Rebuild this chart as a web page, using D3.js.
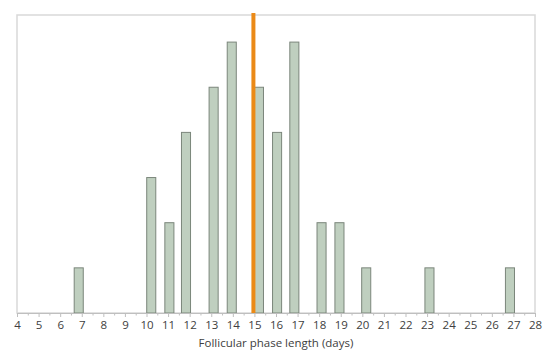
<!DOCTYPE html>
<html>
<head>
<meta charset="utf-8">
<script src="https://cdn.jsdelivr.net/npm/d3@7"></script>
<style>
  html, body { margin: 0; padding: 0; background: #fff; overflow: hidden; }
  svg { display: block; }
  text { font-family: "Open Sans", "Noto Sans", sans-serif; fill: #404040; }
</style>
</head>
<body>
<div id="chart"></div>
<script>
var width = 557,
    height = 359,
    margin = { top: 15, right: 22, bottom: 46, left: 17 },
    innerWidth = width - margin.left - margin.right,
    innerHeight = height - margin.top - margin.bottom;

// follicular phase length (days) and number of cycles
var days = [7, 10, 11, 12, 13, 14, 15, 16, 17, 18, 19, 20, 23, 27];
var barPos = [6.86, 10.22, 11.06, 11.83, 13.11, 13.95, 15.21, 16.05, 16.85, 18.11, 18.94, 20.18, 23.11, 26.84];
var counts = [1, 3, 2, 4, 5, 6, 5, 4, 6, 2, 2, 1, 1, 1];
var xTicks = d3.range(4, 29);
var markerDay = 15;

var barWidthDays = 0.42;

var svg = d3.select("#chart")
    .append("svg")
    .attr("width", width)
    .attr("height", height);

var g = svg.append("g")
    .attr("transform", `translate(${margin.left}, ${margin.top})`);

var x = d3.scaleLinear()
    .domain([4, 28])
    .range([0, innerWidth]);

var y = d3.scaleLinear()
    .domain([0, 6.6])
    .range([innerHeight, 0]);

// plot border
g.append("rect")
    .attr("x", 0)
    .attr("y", 0)
    .attr("width", innerWidth)
    .attr("height", innerHeight)
    .style("fill", "none")
    .style("stroke", "#d9d9d9")
    .style("stroke-width", 1.5);

// bars
var bw = x(4 + barWidthDays) - x(4);
g.selectAll("rect.bar")
    .data(days.map((d, i) => ({ day: d, pos: barPos[i], n: counts[i] })))
    .enter()
    .append("rect")
    .attr("class", "bar")
    .attr("x", d => x(d.pos) - bw / 2)
    .attr("y", d => y(d.n))
    .attr("width", bw)
    .attr("height", d => y(0) - y(d.n))
    .style("fill", "#bfcfbf")
    .style("stroke", "#7b867b")
    .style("stroke-width", 1);

// minor ticks
g.append("g")
    .attr("transform", `translate(0, ${innerHeight})`)
    .call(d3.axisBottom(x).tickValues(d3.range(4.5, 28, 1)).tickSize(2.5).tickFormat(""))
    .call(a => a.select(".domain").remove())
    .call(a => a.selectAll("line").style("stroke", "#bfbfbf"));

// major axis
var xAxis = g.append("g")
    .attr("transform", `translate(0, ${innerHeight})`)
    .call(d3.axisBottom(x).tickValues(xTicks).tickSize(4).tickSizeOuter(0).tickPadding(4));

xAxis.select(".domain").style("stroke", "#bfbfbf");
xAxis.selectAll("line").style("stroke", "#bfbfbf");
xAxis.selectAll("text")
    .style("font-size", "11.5px")
    .style("fill", "#404040")
    .style("font-family", "'Open Sans', sans-serif");

// marker line
g.append("line")
    .attr("x1", x(markerDay) - 1)
    .attr("x2", x(markerDay) - 1)
    .attr("y1", -2)
    .attr("y2", innerHeight)
    .style("stroke", "#eb8a17")
    .style("stroke-width", 4);

svg.append("text")
    .attr("x", margin.left + innerWidth / 2)
    .attr("y", 347)
    .style("text-anchor", "middle")
    .style("font-size", "11.5px")
    .text("Follicular phase length (days)");
</script>
</body>
</html>
